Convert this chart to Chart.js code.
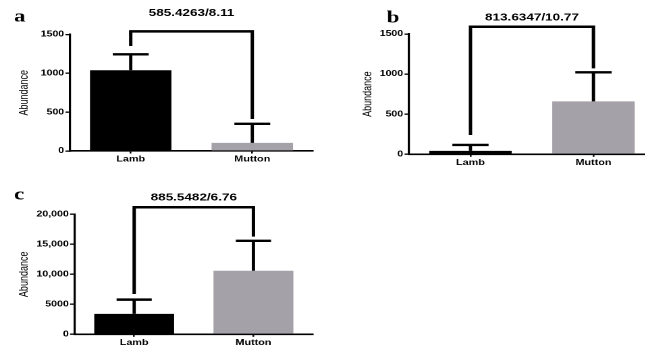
<!DOCTYPE html>
<html>
<head>
<meta charset="utf-8">
<script src="https://cdn.jsdelivr.net/npm/chart.js@4/dist/chart.umd.min.js"></script>
<style>
  html, body { margin: 0; padding: 0; background: #fff; width: 645px; height: 349px; overflow: hidden; }
  /* the source figure is stretched sideways, so each panel is too */
  .panel { position: absolute; transform: scaleX(1.35); transform-origin: 0 0; }
</style>
</head>
<body>
<div class="panel" style="left:0; top:0"><canvas id="chartA" width="237" height="170"></canvas></div>
<div class="panel" style="left:320px; top:0"><canvas id="chartB" width="250" height="175"></canvas></div>
<div class="panel" style="left:0; top:170px"><canvas id="chartC" width="237" height="179"></canvas></div>
<script>
const categories = ['Lamb', 'Mutton'];
const barColors = ['#000000', '#a5a1a8'];

// panel a
const meansA = [1040, 105];
const errorsA = [205, 245];
const bracketA = [1540, 1352, 412]; // top, left leg end, right leg end
const ticksA = ['0', '500', '1000', '1500'];
const titleA = '585.4263/8.11';

// panel b
const meansB = [42, 660];
const errorsB = [75, 362];
const bracketB = [1591, 241, 1072];
const ticksB = ['0', '500', '1000', '1500'];
const titleB = '813.6347/10.77';

// panel c
const meansC = [3400, 10600];
const errorsC = [2380, 4980];
const bracketC = [21170, 6720, 16270];
const ticksC = ['0', '5000', '10,000', '15,000', '20,000'];
const titleC = '885.5482/6.76';

const SANS = '"Liberation Sans", Arial, sans-serif';

const errorBracketPlugin = {
  id: 'errorBracket',
  afterDatasetsDraw(chart, args, opts) {
    const ctx = chart.ctx;
    const y = chart.scales.y;
    const meta = chart.getDatasetMeta(0);
    const values = chart.data.datasets[0].data;
    ctx.save();
    ctx.strokeStyle = '#000';
    ctx.lineWidth = 2.4;
    meta.data.forEach((bar, i) => {
      const yTop = y.getPixelForValue(values[i] + opts.errors[i]);
      const half = bar.width * 0.22;
      ctx.beginPath();
      ctx.moveTo(bar.x, y.getPixelForValue(values[i]));
      ctx.lineTo(bar.x, yTop);
      ctx.moveTo(bar.x - half, yTop);
      ctx.lineTo(bar.x + half, yTop);
      ctx.stroke();
    });
    const x0 = meta.data[0].x, x1 = meta.data[1].x;
    const yt = y.getPixelForValue(opts.bracket[0]);
    ctx.lineWidth = 2.5;
    ctx.beginPath();
    ctx.moveTo(x0, y.getPixelForValue(opts.bracket[1]));
    ctx.lineTo(x0, yt);
    ctx.lineTo(x1, yt);
    ctx.lineTo(x1, y.getPixelForValue(opts.bracket[2]));
    ctx.stroke();

    ctx.fillStyle = '#000';
    ctx.textAlign = 'center';
    ctx.textBaseline = 'alphabetic';
    ctx.font = 'bold 10px ' + SANS;
    ctx.fillText(opts.title, (x0 + x1) / 2, opts.titleY);
    ctx.textAlign = 'left';
    ctx.font = 'bold 17px "Liberation Serif", "Times New Roman", serif';
    ctx.fillText(opts.letter, opts.letterX, opts.letterY);
    ctx.restore();
  }
};

function makePanel(id, p) {
  const ctx = document.getElementById(id).getContext('2d');
  return new Chart(ctx, {
    type: 'bar',
    data: {
      labels: categories,
      datasets: [{
        data: p.means,
        backgroundColor: barColors,
        borderWidth: 0,
        barPercentage: 0.67,
        categoryPercentage: 1
      }]
    },
    options: {
      responsive: false,
      animation: false,
      devicePixelRatio: 2,
      layout: { padding: { left: 0, top: p.top, right: p.right, bottom: 0 } },
      plugins: {
        legend: { display: false },
        tooltip: { enabled: false },
        errorBracket: {
          errors: p.errors, bracket: p.bracket, title: p.title,
          titleY: p.titleY, letter: p.letter, letterX: p.letterX, letterY: p.letterY
        }
      },
      scales: {
        x: {
          ticks: { font: { family: SANS, weight: 'bold', size: 8 }, color: '#000', padding: 1 },
          grid: { drawOnChartArea: false, offset: false, tickLength: 2.5, color: '#000', lineWidth: 1.3 },
          border: { display: true, color: '#000', width: 1.6 },
          afterFit: s => { s.height = p.xHeight; }
        },
        y: {
          min: 0,
          max: p.max,
          ticks: {
            stepSize: p.step,
            font: { family: SANS, weight: 'bold', size: 7.8 },
            color: '#000',
            padding: 1,
            callback: (v, i) => p.tickLabels[i]
          },
          grid: { drawOnChartArea: false, tickLength: 3.3, color: '#000', lineWidth: 1.3 },
          border: { display: true, color: '#000', width: 1.6 },
          title: {
            display: true, text: 'Abundance', color: '#000',
            font: { family: SANS, size: 9 }, padding: { top: p.yTitlePad, bottom: 0 }
          },
          afterFit: s => { s.width = p.axisWidth; }
        }
      }
    },
    plugins: [errorBracketPlugin]
  });
}

makePanel('chartA', {
  means: meansA, errors: errorsA, bracket: bracketA, tickLabels: ticksA, title: titleA,
  max: 1500, step: 500, top: 34.5, right: 5.1, xHeight: 19, axisWidth: 51.8, yTitlePad: 12.4,
  titleY: 16, letter: 'a', letterX: 10.4, letterY: 21.7
});
makePanel('chartB', {
  means: meansB, errors: errorsB, bracket: bracketB, tickLabels: ticksB, title: titleB,
  max: 1500, step: 500, top: 34, right: 1.9, xHeight: 20.7, axisWidth: 65.9, yTitlePad: 30.2,
  titleY: 20.7, letter: 'b', letterX: 49.4, letterY: 22.7
});
makePanel('chartC', {
  means: meansC, errors: errorsC, bracket: bracketC, tickLabels: ticksC, title: titleC,
  max: 20000, step: 5000, top: 44.3, right: 5.1, xHeight: 14.7, axisWidth: 55.2, yTitlePad: 12.4,
  titleY: 30.7, letter: 'c', letterX: 10.4, letterY: 29.5
});
</script>
</body>
</html>
